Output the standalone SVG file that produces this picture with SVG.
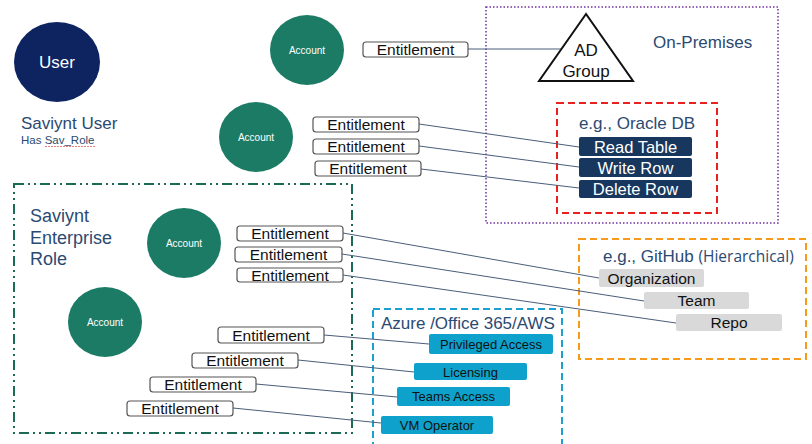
<svg xmlns="http://www.w3.org/2000/svg" width="812" height="444" viewBox="0 0 812 444">
<style>
text{font-family:"Liberation Sans",Arial,sans-serif}
.acc{fill:#1b7b64}
.acct{fill:#fff;font-size:10px;text-anchor:middle}
.ent{fill:#fff;stroke:#555;stroke-width:1.2}
.entt{fill:#111;font-size:15.5px;text-anchor:middle}
.lbl{fill:#2b4a72}
.conn{stroke:#4a5d7a;stroke-width:1;fill:none}
.db{fill:#17375e}
.dbt{fill:#fff;font-size:16.5px;text-anchor:middle}
.gh{fill:#d9d9d9}
.ght{fill:#111;font-size:15.5px;text-anchor:middle}
.az{fill:#0ea1cc}
.azt{fill:#111;font-size:13px;text-anchor:middle}
</style>
<rect width="812" height="444" fill="#fff"/>

<g id="on-premises">
<rect x="486" y="7" width="292" height="216" fill="none" stroke="#7030a0" stroke-width="1.5" stroke-dasharray="1.5,2"/>
<text x="653" y="48" class="lbl" font-size="17">On-Premises</text>
</g>
<g id="oracle">
<rect x="557" y="103" width="160" height="110" fill="none" stroke="#e8201e" stroke-width="2" stroke-dasharray="7,4"/>
<text x="637" y="129" class="lbl" font-size="17" text-anchor="middle">e.g., Oracle DB</text>
</g>
<g id="enterprise-role">
<rect x="14" y="184" width="338" height="249" fill="none" stroke="#1b6a55" stroke-width="2" stroke-dasharray="10,4,2,4,2,4"/>
<text class="lbl" font-size="18"><tspan x="30" y="222">Saviynt</tspan><tspan x="30" y="244">Enterprise</tspan><tspan x="30" y="265">Role</tspan></text>
</g>
<g id="github">
<rect x="579" y="239" width="227" height="120" fill="none" stroke="#f59a1b" stroke-width="2" stroke-dasharray="7,4"/>
<text x="603" y="262" class="lbl" font-size="17">e.g., GitHub <tspan font-size="15.5" font-family="'Open Sans',sans-serif">(Hierarchical)</tspan></text>
</g>
<g id="azure">
<rect x="373" y="309" width="189" height="145" fill="none" stroke="#1ba1d0" stroke-width="2" stroke-dasharray="7,4"/>
<text x="381" y="329" class="lbl" font-size="17">Azure /Office 365/AWS</text>
</g>

<g id="connectors">
<line class="conn" x1="468" y1="49" x2="563" y2="49"/>
<line class="conn" x1="419" y1="124" x2="579" y2="147"/>
<line class="conn" x1="419" y1="146" x2="579" y2="167"/>
<line class="conn" x1="421" y1="169" x2="579" y2="188"/>
<line class="conn" x1="343" y1="233" x2="599" y2="278"/>
<line class="conn" x1="342" y1="254" x2="644" y2="301"/>
<line class="conn" x1="343" y1="275" x2="676" y2="323"/>
<line class="conn" x1="324" y1="335" x2="429" y2="344"/>
<line class="conn" x1="298" y1="360" x2="414" y2="372"/>
<line class="conn" x1="256" y1="384" x2="397" y2="397"/>
<line class="conn" x1="233" y1="408" x2="381" y2="423"/>
</g>

<g id="user">
<ellipse cx="57" cy="62" rx="43" ry="40" fill="#0d2461"/>
<text x="57" y="68" fill="#fff" font-size="17" text-anchor="middle">User</text>
</g>
<g id="saviynt-user">
<text x="21" y="129" class="lbl" font-size="17">Saviynt User</text>
<text x="21" y="144" class="lbl" font-size="11.5">Has Sav_Role</text>
<line x1="45" y1="146.5" x2="96" y2="146.5" stroke="#e06060" stroke-width="0.8" stroke-dasharray="2,1"/>
</g>

<g id="account1"><ellipse class="acc" cx="307" cy="50" rx="37" ry="35"/><text class="acct" x="307" y="54">Account</text></g>
<g id="account2"><ellipse class="acc" cx="256" cy="137" rx="37" ry="35"/><text class="acct" x="256" y="141">Account</text></g>
<g id="account3"><ellipse class="acc" cx="184" cy="243" rx="37" ry="35"/><text class="acct" x="184" y="247">Account</text></g>
<g id="account4"><ellipse class="acc" cx="105" cy="322" rx="37" ry="35"/><text class="acct" x="105" y="326">Account</text></g>

<g id="ad-group">
<polygon points="586,14 539,81 633,81" fill="#fff" stroke="#111" stroke-width="2"/>
<text x="586" y="56" font-size="17" text-anchor="middle" fill="#111">AD</text>
<text x="586" y="77" font-size="17" text-anchor="middle" fill="#111">Group</text>
</g>

<g id="ent1"><rect class="ent" x="363" y="42" width="105" height="15" rx="3"/><text class="entt" x="415.5" y="55">Entitlement</text></g>
<g id="ent2"><rect class="ent" x="313" y="117" width="106" height="15" rx="3"/><text class="entt" x="366" y="130">Entitlement</text></g>
<g id="ent3"><rect class="ent" x="313" y="139" width="106" height="15" rx="3"/><text class="entt" x="366" y="152">Entitlement</text></g>
<g id="ent4"><rect class="ent" x="315" y="161" width="106" height="15" rx="3"/><text class="entt" x="368" y="174">Entitlement</text></g>
<g id="ent5"><rect class="ent" x="237" y="226" width="106" height="15" rx="3"/><text class="entt" x="290" y="239">Entitlement</text></g>
<g id="ent6"><rect class="ent" x="235" y="247" width="107" height="15" rx="3"/><text class="entt" x="288.5" y="260">Entitlement</text></g>
<g id="ent7"><rect class="ent" x="237" y="268" width="106" height="14" rx="3"/><text class="entt" x="290" y="280.5">Entitlement</text></g>
<g id="ent8"><rect class="ent" x="218" y="327" width="106" height="16" rx="3"/><text class="entt" x="271" y="340.5">Entitlement</text></g>
<g id="ent9"><rect class="ent" x="192" y="353" width="106" height="15" rx="3"/><text class="entt" x="245" y="366">Entitlement</text></g>
<g id="ent10"><rect class="ent" x="150" y="377" width="106" height="15" rx="3"/><text class="entt" x="203" y="390">Entitlement</text></g>
<g id="ent11"><rect class="ent" x="127" y="401" width="106" height="15" rx="3"/><text class="entt" x="180" y="414">Entitlement</text></g>

<g id="read-table"><rect class="db" x="579" y="137" width="113" height="19" rx="2"/><text class="dbt" x="635.5" y="152.5">Read Table</text></g>
<g id="write-row"><rect class="db" x="579" y="158" width="113" height="19" rx="2"/><text class="dbt" x="635.5" y="173.5">Write Row</text></g>
<g id="delete-row"><rect class="db" x="579" y="180" width="113" height="18" rx="2"/><text class="dbt" x="635.5" y="195">Delete Row</text></g>

<g id="organization"><rect class="gh" x="599" y="269" width="105" height="18" rx="2"/><text class="ght" x="651.5" y="284">Organization</text></g>
<g id="team"><rect class="gh" x="644" y="292" width="105" height="17" rx="2"/><text class="ght" x="696.5" y="306">Team</text></g>
<g id="repo"><rect class="gh" x="676" y="314" width="106" height="17" rx="2"/><text class="ght" x="729" y="328">Repo</text></g>

<g id="privileged-access"><rect class="az" x="429" y="334" width="124" height="20" rx="2"/><text class="azt" x="491" y="349">Privileged Access</text></g>
<g id="licensing"><rect class="az" x="414" y="363" width="113" height="17" rx="2"/><text class="azt" x="470.5" y="376.5">Licensing</text></g>
<g id="teams-access"><rect class="az" x="397" y="387" width="113" height="19" rx="2"/><text class="azt" x="453.5" y="401">Teams Access</text></g>
<g id="vm-operator"><rect class="az" x="381" y="416" width="112" height="18" rx="2"/><text class="azt" x="437" y="429.5">VM Operator</text></g>
</svg>
